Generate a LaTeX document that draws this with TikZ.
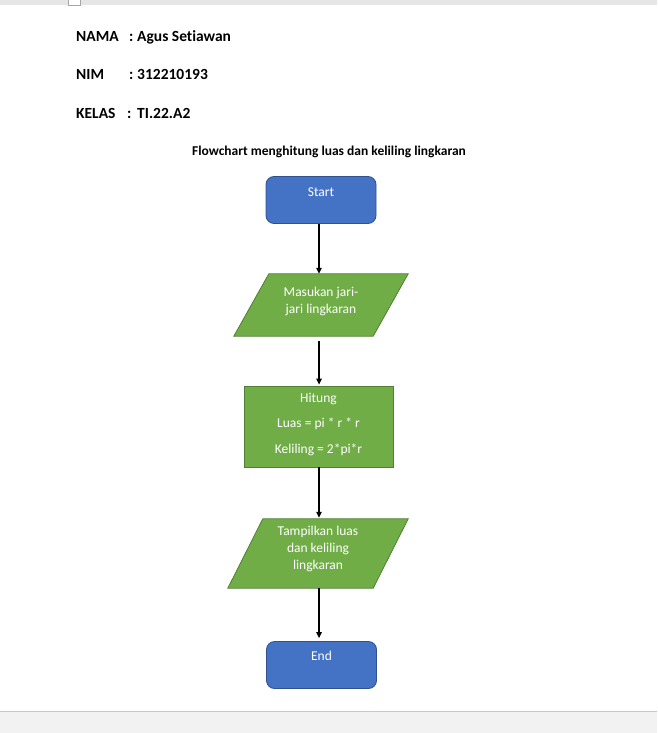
\documentclass[tikz,border=0pt]{standalone}
\usepackage{fontspec}
\setmainfont{Carlito}[Ligatures={NoCommon}]
\usetikzlibrary{arrows.meta,positioning}
\definecolor{bluefill}{HTML}{4472C4}
\definecolor{blueedge}{HTML}{2F528F}
\definecolor{greenfill}{HTML}{70AD47}
\definecolor{greenedge}{HTML}{507E32}
\definecolor{bargray}{HTML}{E6E6E6}
\definecolor{footgray}{HTML}{F2F2F2}
\definecolor{footline}{HTML}{C8C8C8}
\tikzset{
  term/.style={draw=blueedge, fill=bluefill, line width=0.8pt, rounded corners=8pt, minimum width=110pt, minimum height=47pt, inner sep=0pt},
  procbox/.style={draw=greenedge, fill=greenfill, line width=0.8pt, minimum width=149pt, minimum height=81pt, inner sep=0pt},
  iobox/.style={inner sep=0pt},
  iofill/.style={draw=greenedge, fill=greenfill, line width=0.8pt},
  boxtext/.style={text=white, font=\fontsize{13.5}{17}\selectfont, align=center, inner sep=0pt},
  headtext/.style={font=\fontsize{15.5}{18}\selectfont\bfseries, anchor=base west, inner sep=0pt},
  flow/.style={-{Triangle[length=6pt,width=5.5pt]}, line width=1.3pt, black}
}
\begin{document}
\begin{tikzpicture}[x=1pt,y=-1pt]
\useasboundingbox (0,0) rectangle (657,733);
% window chrome
\fill[bargray] (0,0) rectangle (657,5);
\draw[fill=white, draw=gray!70, line width=0.6pt] (68.5,-1) rectangle (80.5,5);
\fill[footgray] (0,711) rectangle (657,733);
\draw[footline, line width=1pt] (0,711) -- (657,711);
% header
\node[headtext] (nama) at (76,42) {NAMA};
\node[headtext] (namac) at (129,42) {:};
\node[headtext] (namav) at (137,42) {Agus Setiawan};
\node[headtext] (nim) at (76,80) {NIM};
\node[headtext] (nimc) at (129,80) {:};
\node[headtext] (nimv) at (137,80) {312210193};
\node[headtext] (kelas) at (76,118) {KELAS};
\node[headtext] (kelasc) at (127,118) {:};
\node[headtext] (kelasv) at (137,118) {TI.22.A2};
\node[font=\fontsize{13.5}{16}\selectfont\bfseries, anchor=base, inner sep=0pt] (title) at (329,155) {Flowchart menghitung luas dan keliling lingkaran};
% shapes
\node[term] (start) at (321,200) {};
\node[boxtext, anchor=north] (starttxt) at ([yshift=-11]start.north) {Start};

\node[iobox, minimum width=174pt, minimum height=62pt] (in) at (321,305) {};
\fill[iofill] ([xshift=35pt]in.north west) -- (in.north east) -- ([xshift=-35pt]in.south east) -- (in.south west) -- cycle;
\node[boxtext] (intxt) at (321,301) {Masukan jari-\\jari lingkaran};

\node[procbox] (proc) at (318.5,426.5) {};
\node[boxtext, anchor=north] (proctxt) at ([yshift=-7]proc.north) {Hitung\\[8.5pt]Luas = pi * r * r\\[8.5pt]Keliling = 2*pi*r};

\node[iobox, minimum width=180pt, minimum height=69pt] (out) at (318,553.5) {};
\fill[iofill] ([xshift=35pt]out.north west) -- (out.north east) -- ([xshift=-35pt]out.south east) -- (out.south west) -- cycle;
\node[boxtext] (outtxt) at (318,549) {Tampilkan luas\\dan keliling\\lingkaran};

\node[term] (end) at (321.5,665) {};
\node[boxtext, anchor=north] (endtxt) at ([yshift=-10]end.north) {End};
% connectors
\draw[flow] ([xshift=-2pt]start.south) -- ([xshift=-2pt]in.north);
\draw[flow, shorten <=5pt, shorten >=1pt] ([xshift=-2pt]in.south) -- ([xshift=0.5pt]proc.north);
\draw[flow, shorten >=1pt] ([xshift=0.5pt]proc.south) -- ([xshift=1pt]out.north);
\draw[flow, shorten >=3pt] ([xshift=1pt]out.south) -- ([xshift=-2.5pt]end.north);
\end{tikzpicture}
\end{document}
